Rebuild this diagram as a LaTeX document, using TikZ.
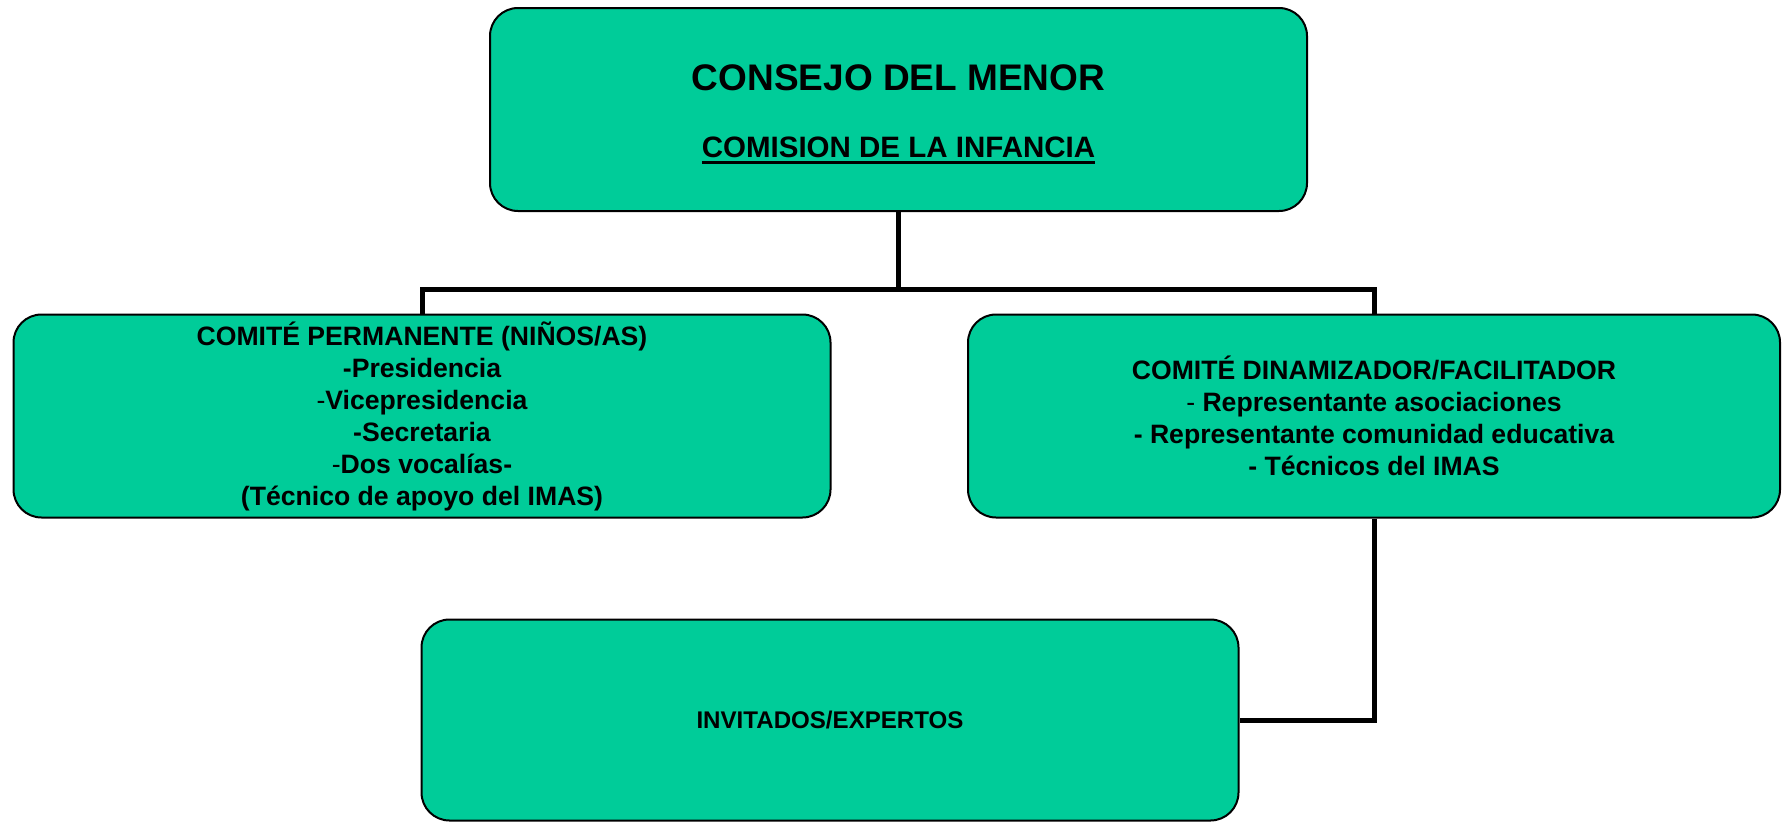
\documentclass[tikz,border=0pt]{standalone}
\usepackage{fontspec}
\setmainfont{Liberation Sans}
\definecolor{boxgreen}{RGB}{0,204,153}
\newcommand{\thickul}[1]{\setbox0\hbox{#1}\rlap{\rule[-6pt]{\wd0}{3pt}}\box0}

\begin{document}
\begin{tikzpicture}[x=1pt, y=-1pt, main/.style = {draw, line width=2pt, fill=boxgreen, rounded corners=28pt, minimum width=817pt, minimum height=203pt, inner sep=0pt, align=center, font=\bfseries\fontsize{26.6}{32}\selectfont}, link/.style = {line width=5pt}]
            \useasboundingbox (0,0) rectangle (1782,822);
            \node[main] (1) at (898.5,109.5) {\rule{0pt}{35pt}{\fontsize{37}{40}\selectfont CONSEJO DEL MENOR}\\[35pt]{\fontsize{29.5}{33}\selectfont\thickul{COMISION DE LA INFANCIA}}};
            \node[main] (2) at (422,416) {COMITÉ PERMANENTE (NIÑOS/AS)\\-Presidencia\\{\mdseries-}Vicepresidencia\\-Secretaria\\{\mdseries-}Dos vocalías-\\(Técnico de apoyo del IMAS)};
            \node[main, minimum width=812pt] (3) at (1374,416) {COMITÉ DINAMIZADOR/FACILITADOR\\{\mdseries-} Representante asociaciones\\- Representante comunidad educativa\\- Técnicos del IMAS};
            \node[main, font=\bfseries\fontsize{24.1}{28}\selectfont, minimum height=201pt] (4) at (830,720) {INVITADOS/EXPERTOS};
            \draw[link] (1.south) -- ++(0,77) -| (2.north);
            \draw[link] (1.south) -- ++(0,77) -| (3.north);
            \draw[link] (3.south) |- (4.east);
        \end{tikzpicture}
\end{document}
